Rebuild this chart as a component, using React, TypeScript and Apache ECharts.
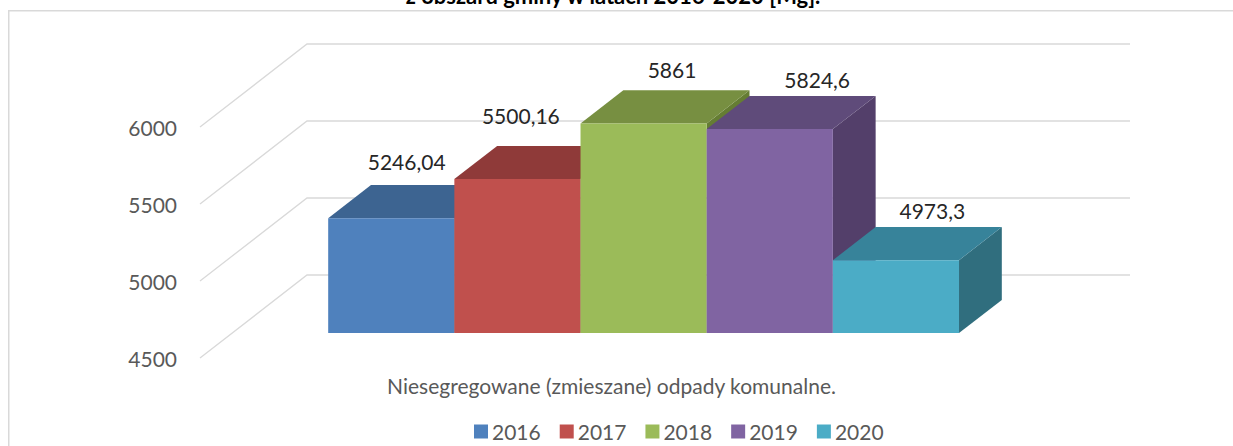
import React, { useEffect, useRef } from 'react';
import * as echarts from 'echarts';

// ---- data ----
const TITLE = 'z obszaru gminy w latach 2016-2020 [Mg].';
const CATEGORY = ['Niesegregowane (zmieszane) odpady komunalne.'];
const YEARS = ['2016', '2017', '2018', '2019', '2020'];
const VALUES = [5246.04, 5500.16, 5861, 5824.6, 4973.3];
const Y_TICKS = [4500, 5000, 5500, 6000];

// ---- styles ----
const FRONT_COLORS = ['#4F81BD', '#C0504D', '#9BBB59', '#8064A2', '#4BACC6'];
const TOP_COLORS = ['#3D6491', '#8F3A39', '#778F41', '#5F4B7A', '#37839A'];
const SIDE_COLORS = ['#34557C', '#7A3230', '#657D33', '#533F6A', '#306E7E'];
const LABEL_NUDGE = [[-6, -40], [-18, -47], [7, -37], [26, -33], [15, -33]];
const DX = 107;
const DY = -83;
const BAR_D0 = 0.3;
const BAR_D1 = 0.7;
const BAR_FRAC = 0.1533;
const FONT = 'Lato';
const GREY = '#595959';

const fmt = (v: number) => String(v).replace('.', ',');

export default function App() {
  const ref = useRef<HTMLDivElement>(null);
  useEffect(() => {
    if (!ref.current) return;
    const chart = echarts.init(ref.current, undefined, { renderer: 'svg' });
    const yMin = Y_TICKS[0];
    const yMax = Y_TICKS[Y_TICKS.length - 1];

    const wallSeries: any = {
      type: 'custom',
      name: 'walls',
      silent: true,
      z: 1,
      data: Y_TICKS.map((t) => [0, t]),
      renderItem: (params: any, api: any) => {
        const cs = params.coordSys;
        const y = api.coord([0, api.value(1)])[1];
        return {
          type: 'polyline',
          shape: {
            points: [
              [cs.x, y],
              [cs.x + DX, y + DY],
              [cs.x + cs.width + DX, y + DY],
            ],
          },
          style: { stroke: '#D9D9D9', lineWidth: 1.3, fill: null },
        };
      },
    };

    const barSeries = YEARS.map((name, i) => ({
      type: 'custom',
      name,
      z: 2 + i,
      itemStyle: { color: FRONT_COLORS[i] },
      data: [[0, VALUES[i]]],
      renderItem: (params: any, api: any) => {
        const v = api.value(1);
        const top = api.coord([api.value(0), v]);
        const base = api.coord([api.value(0), yMin]);
        const bw = api.size([1, 0])[0] * BAR_FRAC;
        const xl = top[0] - (bw * YEARS.length) / 2 + i * bw;
        const xr = xl + bw;
        const yt = top[1];
        const yb = base[1];
        const P = (x: number, y: number, d: number) => [x + d * DX, y + d * DY];
        const side = {
          type: 'polygon',
          shape: { points: [P(xr, yt, BAR_D0), P(xr, yt, BAR_D1), P(xr, yb, BAR_D1), P(xr, yb, BAR_D0)] },
          style: { fill: SIDE_COLORS[i] },
        };
        const topFace = {
          type: 'polygon',
          shape: { points: [P(xl, yt, BAR_D0), P(xr, yt, BAR_D0), P(xr, yt, BAR_D1), P(xl, yt, BAR_D1)] },
          style: { fill: TOP_COLORS[i] },
        };
        const f0 = P(xl, yt, BAR_D0);
        const f1 = P(xr, yb, BAR_D0);
        const front = {
          type: 'rect',
          shape: { x: f0[0], y: f0[1], width: f1[0] - f0[0], height: f1[1] - f0[1] },
          style: { fill: FRONT_COLORS[i] },
        };
        const c = P((xl + xr) / 2, yt, (BAR_D0 + BAR_D1) / 2);
        const label = {
          type: 'text',
          x: c[0] + LABEL_NUDGE[i][0],
          y: c[1] + LABEL_NUDGE[i][1],
          silent: true,
          style: {
            text: fmt(v),
            fill: '#262626',
            fontSize: 21,
            fontFamily: FONT,
            align: 'center',
            verticalAlign: 'middle',
          },
        };
        return { type: 'group', children: [side, topFace, front, label] };
      },
    }));

    chart.setOption({
      animation: false,
      color: FRONT_COLORS,
      textStyle: { fontFamily: FONT },
      grid: { left: 200, top: 127, width: 823, height: 231 },
      xAxis: {
        type: 'category',
        data: CATEGORY,
        axisLine: { show: false },
        axisTick: { show: false },
        splitLine: { show: false },
        axisLabel: { color: GREY, fontSize: 21, fontFamily: FONT, margin: 17 },
      },
      yAxis: {
        type: 'value',
        min: yMin,
        max: yMax,
        interval: 500,
        axisLine: { show: false },
        axisTick: { show: false },
        splitLine: { show: false },
        axisLabel: {
          color: GREY,
          fontSize: 21,
          fontFamily: FONT,
          margin: 23,
          formatter: (v: number) => String(v),
        },
      },
      legend: {
        data: YEARS,
        left: 469,
        top: 416,
        icon: 'rect',
        itemWidth: 14,
        itemHeight: 14,
        itemGap: 19,
        textStyle: { color: GREY, fontSize: 21, fontFamily: FONT, padding: [0, 0, 0, -1] },
      },
      graphic: [
        {
          type: 'rect',
          z: -10,
          silent: true,
          shape: { x: 8.75, y: 10.75, width: 1400, height: 600 },
          style: { fill: 'none', stroke: '#D9D9D9', lineWidth: 1.5 },
        },
        {
          type: 'text',
          x: 613,
          y: -5,
          silent: true,
          style: {
            text: TITLE,
            fill: '#000',
            fontSize: 22,
            fontWeight: 'bold',
            fontFamily: FONT,
            align: 'center',
            verticalAlign: 'middle',
          },
        },
      ],
      series: [wallSeries, ...barSeries],
    });
    return () => chart.dispose();
  }, []);
  return <div ref={ref} style={{ position: 'fixed', left: 0, top: 0, width: 1233, height: 446, background: '#fff' }} />;
}
